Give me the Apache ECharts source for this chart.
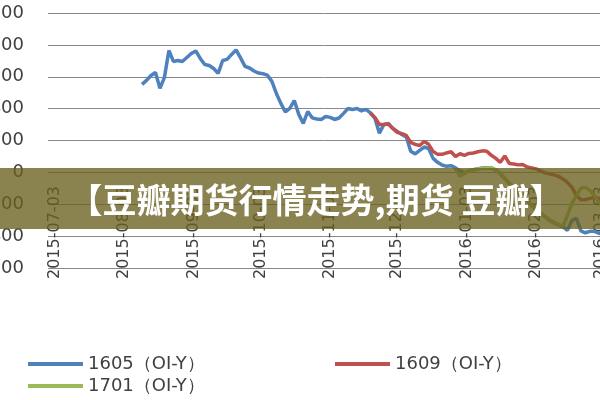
<!DOCTYPE html>
<html>
<head>
<meta charset="utf-8">
<script src="https://cdn.jsdelivr.net/npm/echarts@6/dist/echarts.min.js"></script>
<style>html,body{margin:0;padding:0;background:#fff;}#c{width:600px;height:400px;}</style>
</head>
<body>
<div id="c"></div>
<script>
// ---- data ----
const axisStart = '2015-06-30';
const axisEnd = '2016-03-07';
const tickDates = ['2015-07-03','2015-08-03','2015-09-03','2015-10-03','2015-11-03','2015-12-03','2016-01-03','2016-02-03','2016-03-03'];
const yTicks = { min: -600, max: 1000, step: 200 };
const seriesNames = ['1605（OI-Y）', '1609（OI-Y）', '1701（OI-Y）'];
const dates = [
 '2015-08-11','2015-08-13','2015-08-15','2015-08-17','2015-08-19','2015-08-21','2015-08-23','2015-08-25','2015-08-27','2015-08-29','2015-08-31',
 '2015-09-02','2015-09-04','2015-09-06','2015-09-08','2015-09-10','2015-09-12','2015-09-14','2015-09-16','2015-09-18','2015-09-20','2015-09-22','2015-09-24','2015-09-26','2015-09-28','2015-09-30',
 '2015-10-02','2015-10-04','2015-10-06','2015-10-08','2015-10-10','2015-10-12','2015-10-14','2015-10-16','2015-10-18','2015-10-20','2015-10-22','2015-10-24','2015-10-26','2015-10-28','2015-10-30',
 '2015-11-01','2015-11-03','2015-11-05','2015-11-07','2015-11-09','2015-11-11','2015-11-13','2015-11-15','2015-11-17','2015-11-19','2015-11-21','2015-11-23','2015-11-25','2015-11-27','2015-11-29',
 '2015-12-01','2015-12-03','2015-12-05','2015-12-07','2015-12-09','2015-12-11','2015-12-13','2015-12-15','2015-12-17','2015-12-19','2015-12-21','2015-12-23','2015-12-25','2015-12-27','2015-12-29','2015-12-31',
 '2016-01-02','2016-01-04','2016-01-06','2016-01-08','2016-01-10','2016-01-12','2016-01-14','2016-01-16','2016-01-18','2016-01-20','2016-01-22','2016-01-24','2016-01-26','2016-01-28','2016-01-30',
 '2016-02-01','2016-02-03','2016-02-05','2016-02-07','2016-02-09','2016-02-11','2016-02-13','2016-02-15','2016-02-17','2016-02-19','2016-02-21','2016-02-23','2016-02-25','2016-02-27','2016-02-29',
 '2016-03-02','2016-03-04'
];
// 1605: from dates[0]
const s1605 = [
 552,577,608,627,527,596,765,696,702,696,721,
 746,762,715,677,671,652,621,702,709,740,768,718,665,655,636,
 623,619,610,571,495,433,379,401,451,364,307,382,342,335,332,
 351,345,332,341,370,401,395,401,386,395,373,339,245,301,307,
 276,257,238,223,132,116,138,159,150,88,63,46,38,42,28,9,
 -2,10,17,23,27,29,28,16,-9,-38,-69,-100,-132,-154,-176,
 -207,-235,-257,-279,-301,-317,-329,-342,-364,-301,-288,-367,-379,-370,-370,
 -382,-389
];
const s1605Start = 0;
// 1609: from dates[51]
const s1609 = [
 373,345,301,301,304,
 276,251,243,232,188,176,169,194,176,132,113,113,122,129,100,117,
 107,119,122,129,135,132,107,88,63,103,56,53,47,50,34,
 28,22,9,-3,-9,-16,-25,-41,-63,-94,-144,-172,-172,-163,-157,
 -163,-169
];
const s1609Start = 51;
// 1701: from dates[70]
const s1701 = [
 19,-25,
 -6,9,16,22,25,28,31,13,-6,-36,-66,-98,-128,-152,-174,
 -205,-232,-255,-276,-298,-314,-326,-338,-270,-194,-144,-100,-94,-113,-144,
 -188,-207
];
const s1701Start = 70;
const colors = ['#4F81BD', '#C0504D', '#9BBB59'];
const bannerText = '【豆瓣期货行情走势,期货 豆瓣】';

// ---- chart ----
const P = s => echarts.number.parseDate(s).getTime();
const mk = (vals, start) => vals.map((v, i) => [P(dates[start + i]), v]);
const chart = echarts.init(document.getElementById('c'), null, { renderer: 'canvas' });
const txt = '#404040';
const gridColor = '#888888';
const legendCommon = { icon: 'rect', itemWidth: 55, itemHeight: 4, itemGap: 5, textStyle: { fontFamily: 'DejaVu Sans', fontSize: 18, color: txt } };
chart.setOption({
  animation: false,
  backgroundColor: '#fff',
  color: colors,
  grid: { left: 48, right: -10, top: 13, bottom: 132, outerBoundsMode: 'none', containLabel: false },
  xAxis: {
    type: 'value',
    min: P(axisStart), max: P(axisEnd),
    offset: -96,
    axisLine: { show: false, onZero: false },
    axisTick: { show: false },
    splitLine: { show: false },
    axisLabel: {
      rotate: 90, margin: 14, fontFamily: 'DejaVu Sans', fontSize: 16, color: txt,
      padding: [16, 0, 0, 0],
      customValues: tickDates.map(P),
      formatter: v => echarts.time.format(v, '{yyyy}-{MM}-{dd}', false)
    }
  },
  yAxis: {
    type: 'value', min: yTicks.min, max: yTicks.max, interval: yTicks.step,
    axisLine: { show: false, onZero: false }, axisTick: { show: false },
    splitLine: { lineStyle: { color: gridColor, width: 1 } },
    axisLabel: { margin: 24, fontFamily: 'DejaVu Sans', fontSize: 18, color: txt, formatter: v => String(v) }
  },
  legend: [
    Object.assign({ data: [seriesNames[0]], left: 23, top: 350 }, legendCommon),
    Object.assign({ data: [seriesNames[1]], left: 330, top: 350 }, legendCommon),
    Object.assign({ data: [seriesNames[2]], left: 23, top: 372 }, legendCommon)
  ],
  series: [
    { name: seriesNames[0], type: 'line', data: mk(s1605, s1605Start), showSymbol: false, lineStyle: { width: 3.5 } },
    { name: seriesNames[1], type: 'line', data: mk(s1609, s1609Start), showSymbol: false, lineStyle: { width: 3.5 } },
    { name: seriesNames[2], type: 'line', data: mk(s1701, s1701Start), showSymbol: false, lineStyle: { width: 3.5 } }
  ],
  graphic: [
    { type: 'rect', z: 100, shape: { x: 0, y: 168, width: 600, height: 61 }, style: { fill: 'rgba(105,96,30,0.78)' } },
    { type: 'text', z: 101, x: 316, y: 200, style: { text: bannerText, fill: '#fff', fontSize: 34, fontWeight: 'bold', fontFamily: 'Noto Sans CJK SC', align: 'center', verticalAlign: 'middle' } }
  ]
});
</script>
</body>
</html>
